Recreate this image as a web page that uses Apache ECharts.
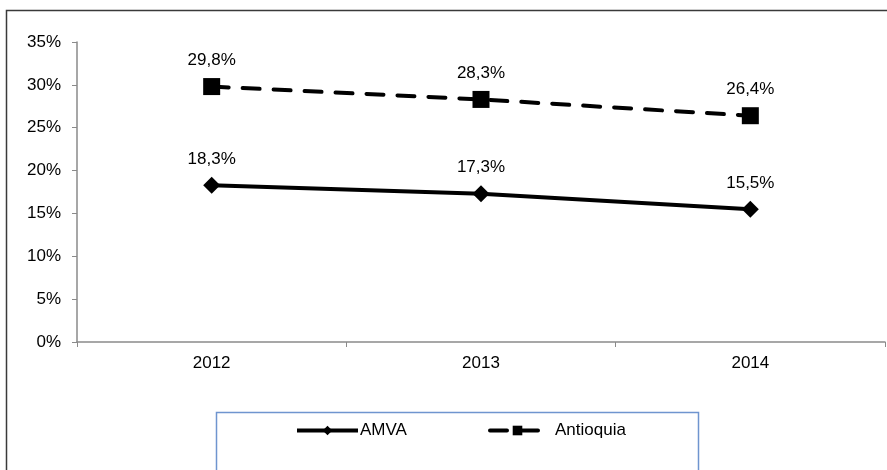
<!DOCTYPE html>
<html>
<head>
<meta charset="utf-8">
<script src="https://cdn.jsdelivr.net/npm/echarts@6/dist/echarts.min.js"></script>
<style>
  html, body { margin: 0; padding: 0; background: #fff; }
  #main { width: 887px; height: 470px; }
</style>
</head>
<body>
<div id="main"></div>
<script>
var years = ['2012', '2013', '2014'];
var amva = [18.3, 17.3, 15.5];
var antioquia = [29.8, 28.3, 26.4];
var yTicks = [0, 5, 10, 15, 20, 25, 30, 35];

var myChart = echarts.init(document.getElementById('main'));

function pct(v) {
  return v.toFixed(1).replace('.', ',') + '%';
}

var option = {
  backgroundColor: '#fff',
  animation: false,
  textStyle: { fontFamily: 'Liberation Sans, Arial, sans-serif' },
  graphic: [
    {
      type: 'rect',
      shape: { x: 6.5, y: 10.5, width: 900, height: 500 },
      style: { fill: 'none', stroke: '#3a3a3a', lineWidth: 1.5 },
      z: 0
    },
    {
      type: 'rect',
      shape: { x: 216.5, y: 412.5, width: 482, height: 100 },
      style: { fill: 'none', stroke: '#6f95cf', lineWidth: 1.5 },
      z: 0
    }
  ],
  grid: { left: 77, right: 2, top: 42, bottom: 128 },
  legend: [
    {
      left: 295,
      top: 422,
      padding: 0,
      itemWidth: 61,
      itemHeight: 12,
      lineStyle: { width: 4 },
      textStyle: { fontSize: 17, color: '#000', padding: [0, 0, 0, -3] },
      data: ['AMVA']
    },
    {
      left: 488,
      top: 422,
      padding: 0,
      itemWidth: 55,
      itemHeight: 12,
      lineStyle: { width: 4 },
      textStyle: { fontSize: 17, color: '#000', padding: [0, 0, 0, 5] },
      data: ['Antioquia']
    }
  ],
  xAxis: {
    type: 'category',
    data: years,
    boundaryGap: true,
    axisLine: { lineStyle: { color: '#8a8a8a', width: 1.5 } },
    axisTick: { show: true, length: 5, lineStyle: { color: '#8a8a8a' } },
    axisLabel: { color: '#000', fontSize: 17, margin: 13 }
  },
  yAxis: {
    type: 'value',
    min: yTicks[0],
    max: yTicks[yTicks.length - 1],
    interval: 5,
    splitLine: { show: false },
    axisLine: { show: true, lineStyle: { color: '#8a8a8a', width: 1.5 } },
    axisTick: { show: true, length: 5, lineStyle: { color: '#8a8a8a' } },
    axisLabel: { color: '#000', fontSize: 17, margin: 16, formatter: '{value}%' }
  },
  series: [
    {
      name: 'AMVA',
      type: 'line',
      data: amva,
      symbol: 'diamond',
      symbolSize: 17,
      itemStyle: { color: '#000' },
      lineStyle: { color: '#000', width: 4 },
      label: {
        show: true,
        position: 'top',
        distance: 9,
        color: '#000',
        fontSize: 17,
        formatter: function (p) { return pct(p.value); }
      }
    },
    {
      name: 'Antioquia',
      type: 'line',
      data: antioquia,
      symbol: 'rect',
      symbolSize: 17,
      itemStyle: { color: '#000' },
      lineStyle: { color: '#000', width: 4, type: [17, 14], cap: 'round' },
      label: {
        show: true,
        position: 'top',
        distance: 9,
        color: '#000',
        fontSize: 17,
        formatter: function (p) { return pct(p.value); }
      }
    }
  ]
};

myChart.setOption(option);
</script>
</body>
</html>
